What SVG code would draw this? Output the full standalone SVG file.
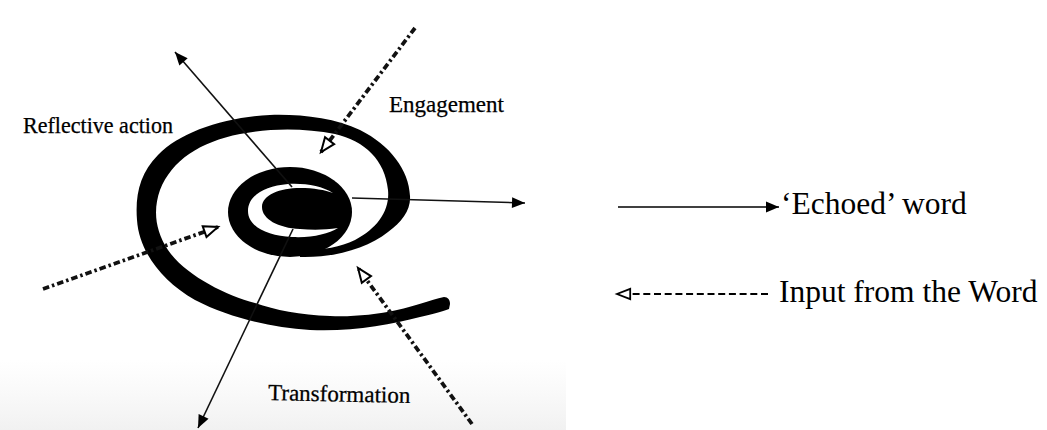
<svg xmlns="http://www.w3.org/2000/svg" width="1047" height="430" viewBox="0 0 1047 430">
<style>
.lbl{font-family:"Liberation Serif","Times New Roman",serif;font-size:23px;fill:#000;stroke:#000;stroke-width:0.25}
.leg{font-family:"Liberation Serif","Times New Roman",serif;font-size:31.5px;fill:#000}
.solid{stroke:#111;stroke-width:1.6;fill:none}
.dd{stroke:#111;stroke-width:3.8;fill:none;stroke-dasharray:6.5 3 2.5 3}
.ink{fill:#000}
</style>
<defs>
<linearGradient id="scan" x1="0" y1="0" x2="0" y2="1">
<stop offset="0" stop-color="#f4f4f4" stop-opacity="0"/>
<stop offset="1" stop-color="#f1f1f1" stop-opacity="1"/>
</linearGradient>
<marker id="headSolid" viewBox="0 0 13 11" refX="13" refY="5.5" markerWidth="13" markerHeight="11" markerUnits="userSpaceOnUse" orient="auto" overflow="visible">
<path d="M0,0 L13,5.5 L0,11 Z" fill="#000"/>
</marker>
<marker id="headOpen" viewBox="0 0 15 13" refX="15" refY="6.5" markerWidth="15" markerHeight="13" markerUnits="userSpaceOnUse" orient="auto" overflow="visible">
<path d="M0.8,0.8 L15,6.5 L0.8,12.2 Z" fill="#fff" stroke="#000" stroke-width="2" stroke-linejoin="miter"/>
</marker>
<marker id="headOpenSmall" viewBox="0 0 14 12" refX="14" refY="6" markerWidth="14" markerHeight="12" markerUnits="userSpaceOnUse" orient="auto" overflow="visible">
<path d="M0.8,0.8 L14,6 L0.8,11.2 Z" fill="#fff" stroke="#000" stroke-width="1.8" stroke-linejoin="miter"/>
</marker>
</defs>
<rect width="1047" height="430" fill="#fff"/>
<rect x="0" y="360" width="566" height="70" fill="url(#scan)"/>

<g id="spiral">
<path class="ink" d="M300 257 C335 258 368 248 388 232 C402 222 411 210 410 196 C409 170 390 145 360 130 C335 118 300 114 270 115 C225 117 180 132 158 155 C140 173 135 195 137 220 C139 250 160 280 195 300 C230 318 270 327 310 330 C350 332 390 325 420 317 C432 314 442 312 449 309 L450 304 C450 300 448 297 444 297 C430 300 415 306 397 310 C375 315 350 317 330 316 C300 315 275 310 255 303 C225 295 185 275 168 250 C155 230 153 210 160 190 C172 160 200 142 240 134 C270 128 305 128 335 134 C365 141 385 160 388 190 C390 210 378 228 355 240 C340 247 325 250 300 250 Z"/>
<ellipse class="ink" cx="290" cy="212" rx="62" ry="45"/>
<path fill="#fff" d="M333 193 C322 186 305 183 288 184 C264 186 248 196 248 211 C248 227 268 236 292 237 C312 238 328 234 338 228 C325 230 312 230 300 229 C278 228 262 219 262 207 C262 195 280 188 300 188 C314 188 325 190 333 193 Z"/>
</g>

<g id="connectors">
<line class="solid" x1="292" y1="187" x2="175" y2="52" marker-end="url(#headSolid)"/>
<line class="solid" x1="352" y1="198" x2="525" y2="203" marker-end="url(#headSolid)"/>
<line class="solid" x1="293" y1="229" x2="198" y2="428" marker-end="url(#headSolid)"/>
<line class="dd" x1="415" y1="28" x2="321" y2="152" marker-end="url(#headOpen)"/>
<line class="dd" x1="43" y1="289" x2="218" y2="227" marker-end="url(#headOpen)"/>
<line class="dd" x1="472" y1="424" x2="358" y2="268" marker-end="url(#headOpen)"/>
</g>

<g id="label-reflective"><text class="lbl" x="23" y="133" textLength="150" lengthAdjust="spacingAndGlyphs">Reflective action</text></g>
<g id="label-engagement"><text class="lbl" x="389" y="112">Engagement</text></g>
<g id="label-transformation"><text class="lbl" x="268" y="400" transform="rotate(1.2 268 400)">Transformation</text></g>

<g id="legend-echoed">
<line x1="618" y1="207" x2="779" y2="207" stroke="#000" stroke-width="1.5" marker-end="url(#headSolid)"/>
<text class="leg" x="781" y="214">‘Echoed’ word</text>
</g>
<g id="legend-input">
<line x1="768" y1="294" x2="617" y2="294" stroke="#000" stroke-width="2" stroke-dasharray="7 3.7" marker-end="url(#headOpenSmall)"/>
<text class="leg" x="779" y="302">Input from the Word</text>
</g>
</svg>
